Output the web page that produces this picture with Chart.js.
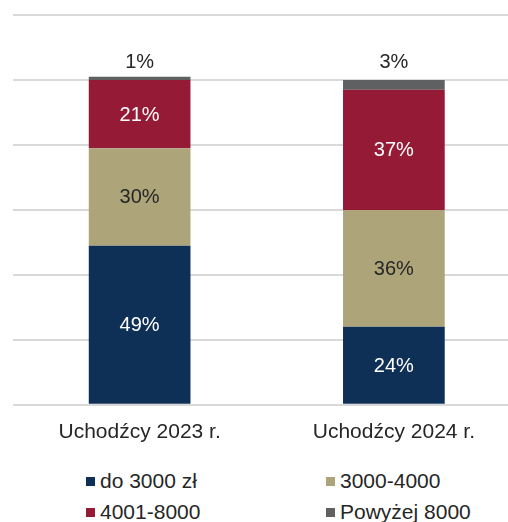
<!DOCTYPE html>
<html>
<head>
<meta charset="utf-8">
<script src="https://cdn.jsdelivr.net/npm/chart.js@4"></script>
<style>
  html, body { margin: 0; padding: 0; background: #fff; overflow: hidden; }
  #wrap { position: relative; width: 521px; height: 465px; }
  #legend {
    position: absolute; top: 469px; left: 0; width: 508px;
    display: grid; grid-template-columns: 240px 200px; row-gap: 7px;
    padding-left: 86px; box-sizing: border-box;
    font: 21px "Liberation Sans", Arial, sans-serif; color: #262626;
  }
  .item { display: flex; align-items: center; height: 24px; white-space: nowrap; }
  .box { width: 9px; height: 9px; margin-right: 5px; }
</style>
</head>
<body>
<div id="wrap"><canvas id="chart" width="521" height="465"></canvas></div>
<div id="legend"></div>
<script>
const categories = ['Uchodźcy 2023 r.', 'Uchodźcy 2024 r.'];
const seriesNames = ['do 3000 zł', '3000-4000', '4001-8000', 'Powyżej 8000'];
const do3000 = [49, 24];
const od3000do4000 = [30, 36];
const od4001do8000 = [21, 37];
const powyzej8000 = [1, 3];

const colors = ['#0e2f56', '#aea47a', '#951a36', '#5e6062'];
const labelColors = ['#ffffff', '#262626', '#ffffff', '#262626'];
const fontFamily = '"Liberation Sans", Arial, sans-serif';

const seriesData = [do3000, od3000do4000, od4001do8000, powyzej8000];

// etykiety wartości na słupkach
const valueLabels = {
    id: 'valueLabels',
    afterDatasetsDraw(chart) {
        const ctx = chart.ctx;
        const topY = chart.scales.y.getPixelForValue(100);
        ctx.save();
        ctx.font = '20px ' + fontFamily;
        ctx.textAlign = 'center';
        ctx.textBaseline = 'middle';
        chart.data.datasets.forEach((ds, i) => {
            const meta = chart.getDatasetMeta(i);
            meta.data.forEach((bar, j) => {
                const text = ds.data[j] + '%';
                ctx.fillStyle = labelColors[i];
                if (i === 3) {
                    ctx.fillText(text, bar.x, topY - 17.5);
                } else {
                    ctx.fillText(text, bar.x, (bar.y + bar.base) / 2 + 1);
                }
            });
        });
        ctx.restore();
    }
};

const chart = new Chart(document.getElementById('chart'), {
    type: 'bar',
    data: {
        labels: categories,
        datasets: seriesData.map((d, i) => ({
            label: seriesNames[i],
            data: d,
            backgroundColor: colors[i],
            borderWidth: 0,
            barPercentage: 0.4,
            categoryPercentage: 1
        }))
    },
    options: {
        responsive: false,
        animation: false,
        devicePixelRatio: 1,
        layout: { padding: { top: 15, left: 12.5, right: 0, bottom: 5 } },
        plugins: {
            legend: { display: false },
            tooltip: { enabled: false }
        },
        scales: {
            x: {
                stacked: true,
                grid: { display: false, drawTicks: false },
                border: { display: false },
                ticks: {
                    padding: 15,
                    color: '#262626',
                    font: { family: fontFamily, size: 21 }
                }
            },
            y: {
                stacked: true,
                min: 0,
                max: 120,
                ticks: { stepSize: 20, display: false },
                grid: { color: '#d9d9d9', lineWidth: 2, drawTicks: false },
                border: { display: false }
            }
        }
    },
    plugins: [valueLabels]
});

// legenda w dwóch kolumnach
const legend = document.getElementById('legend');
chart.data.datasets.forEach(ds => {
    const item = document.createElement('div');
    item.className = 'item';
    const box = document.createElement('span');
    box.className = 'box';
    box.style.background = ds.backgroundColor;
    const txt = document.createElement('span');
    txt.textContent = ds.label;
    item.appendChild(box);
    item.appendChild(txt);
    legend.appendChild(item);
});
</script>
</body>
</html>
